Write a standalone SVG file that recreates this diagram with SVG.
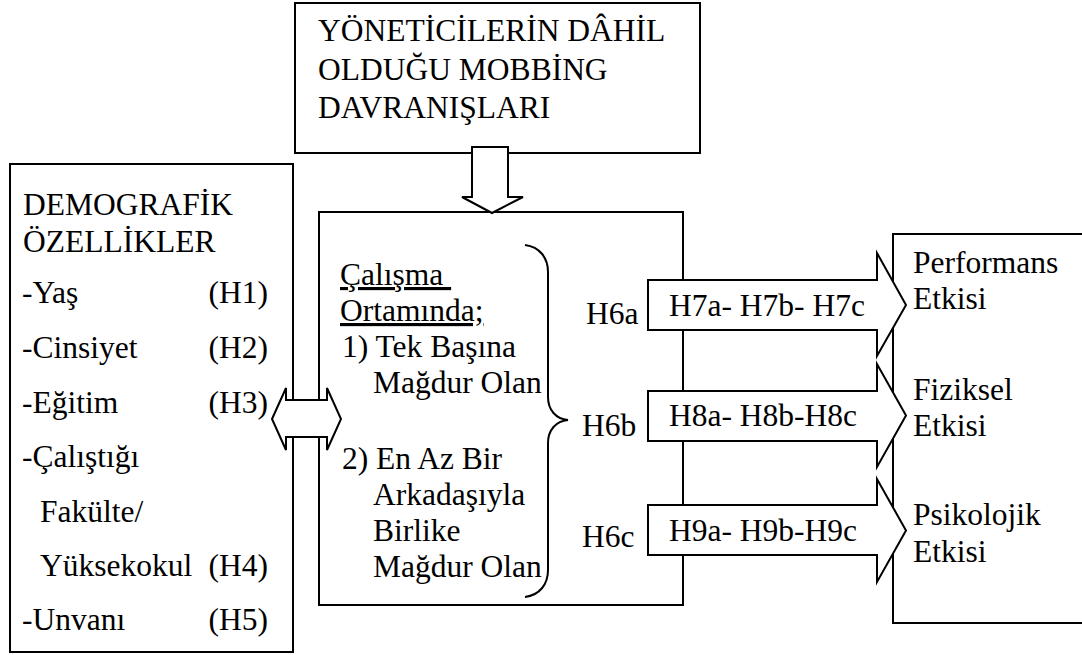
<svg xmlns="http://www.w3.org/2000/svg" width="1082" height="655" viewBox="0 0 1082 655" font-family="'Liberation Serif', 'Times New Roman', serif" font-size="31.5">
<style>
.box{fill:#fff;stroke:#000;stroke-width:2}
.arr{fill:#fff;stroke:#000;stroke-width:2;stroke-linejoin:miter}
.brace{fill:none;stroke:#000;stroke-width:2}
.u{text-decoration:underline;white-space:pre}
.end{text-anchor:end}
</style>
<rect width="1082" height="655" fill="#fff"/>
<g id="node-top">
<rect class="box" x="295" y="3" width="405" height="150"/>
<text x="318" y="41">YÖNETİCİLERİN DÂHİL</text>
<text x="318" y="80">OLDUĞU MOBBİNG</text>
<text x="318" y="118">DAVRANIŞLARI</text>
</g>
<g id="node-demografik">
<rect class="box" x="10" y="164" width="283" height="488"/>
<text x="23" y="215">DEMOGRAFİK</text>
<text x="23" y="252">ÖZELLİKLER</text>
<text x="22" y="303">-Yaş</text><text class="end" x="268" y="303">(H1)</text>
<text x="22" y="358">-Cinsiyet</text><text class="end" x="268" y="358">(H2)</text>
<text x="22" y="413">-Eğitim</text><text class="end" x="268" y="413">(H3)</text>
<text x="22" y="467">-Çalıştığı</text>
<text x="40" y="522">Fakülte/</text>
<text x="40" y="576">Yüksekokul</text><text class="end" x="268" y="576">(H4)</text>
<text x="22" y="630">-Unvanı</text><text class="end" x="268" y="630">(H5)</text>
</g>
<g id="node-ortam">
<rect class="box" x="319" y="212" width="364" height="393"/>
<text class="u" x="340" y="285">Çalışma </text>
<text class="u" x="340" y="321">Ortamında;</text>
<text x="342" y="357">1) Tek Başına</text>
<text x="373" y="393">Mağdur Olan</text>
<text x="342" y="469">2) En Az Bir</text>
<text x="373" y="505">Arkadaşıyla</text>
<text x="373" y="541">Birlike</text>
<text x="373" y="577">Mağdur Olan</text>
<path class="brace" d="M525,245 C540,247 548,258 548,272 L548,397 C548,410 556,419 568,420 C556,421 548,430 548,443 L548,570 C548,584 540,595 525,597"/>
<text x="586" y="324">H6a</text>
<text x="582" y="436">H6b</text>
<text x="582" y="547">H6c</text>
</g>
<g id="node-etki">
<rect class="box" x="893" y="234" width="220" height="389"/>
<text x="913" y="273">Performans</text>
<text x="913" y="309">Etkisi</text>
<text x="913" y="400">Fiziksel</text>
<text x="913" y="436">Etkisi</text>
<text x="913" y="525">Psikolojik</text>
<text x="913" y="562">Etkisi</text>
</g>
<g id="connectors">
<path class="arr" d="M472,147 L508,147 L508,197 L523,197 L492,213 L462,197 L472,197 Z"/>
<path class="arr" d="M272,419 L286,388 L286,400 L327,400 L327,388 L341,419 L327,450 L327,437 L286,437 L286,450 Z"/>
<path class="arr" d="M648,280 L877,280 L877,253 L906,305 L877,356 L877,330 L648,330 Z"/>
<text x="669" y="316">H7a- H7b- H7c</text>
<path class="arr" d="M648,391 L877,391 L877,364 L906,415.5 L877,467 L877,441 L648,441 Z"/>
<text x="669" y="426">H8a- H8b-H8c</text>
<path class="arr" d="M648,505 L877,505 L877,479 L906,530.5 L877,582 L877,555 L648,555 Z"/>
<text x="669" y="541">H9a- H9b-H9c</text>
</g>
</svg>
